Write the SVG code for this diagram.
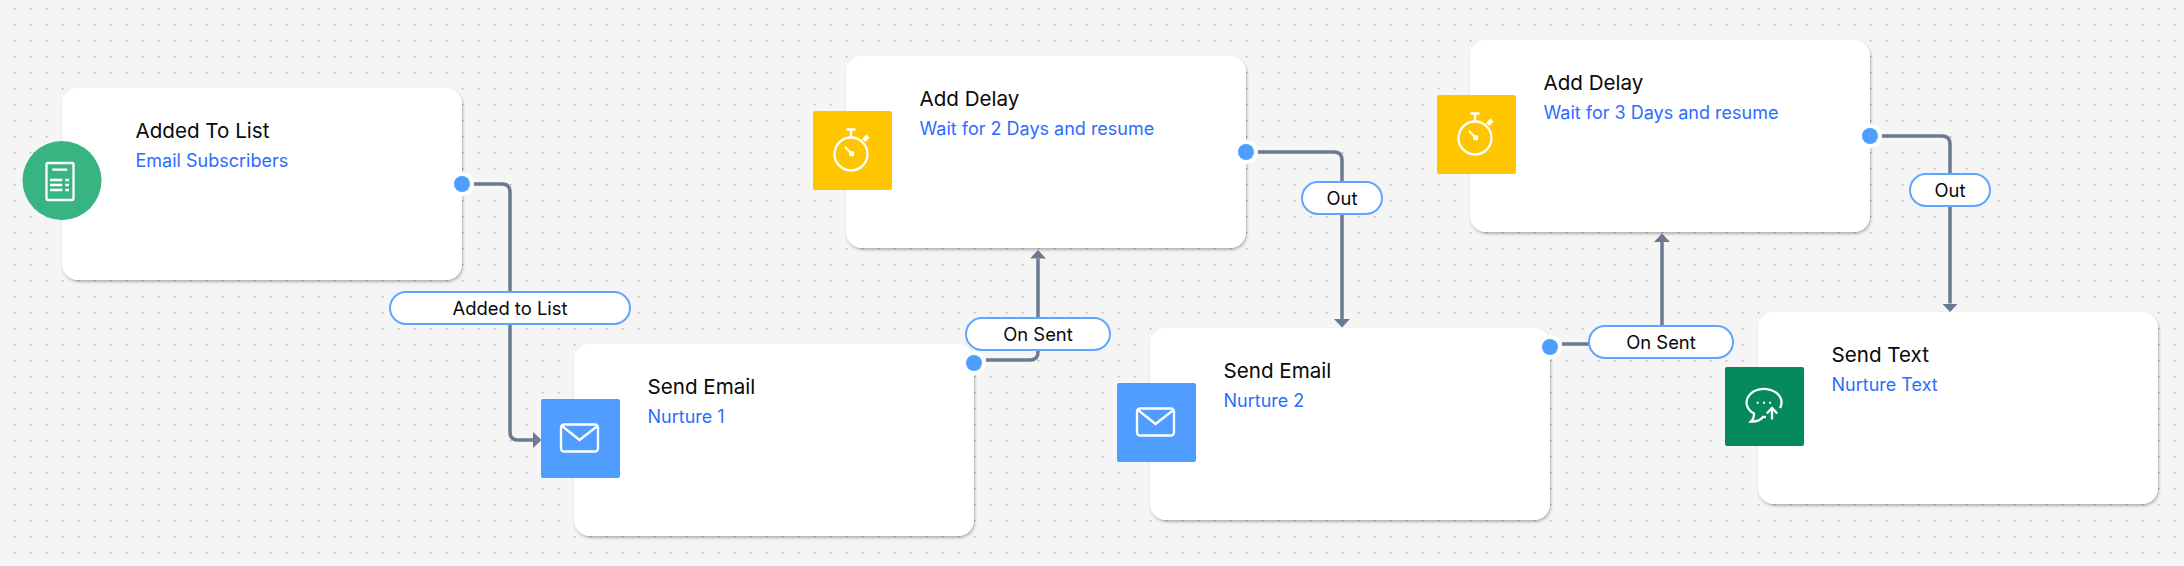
<svg xmlns="http://www.w3.org/2000/svg" width="2184" height="566" viewBox="0 0 2184 566">
<style>
text{font-family:"Inter","Liberation Sans",sans-serif}
.card{fill:#fff;filter:url(#sh)}
.title{font-size:20.600px;fill:#0a0a0a}
.sub{font-size:18px;fill:#2d6cff}
.halo{fill:#fff}
.port{fill:#4f9dff}
.conn{fill:none;stroke:#6b7a90;stroke-width:3.500}
.pill{fill:#fff;stroke:#5ea5ff;stroke-width:2}
.pt{font-size:18.400px;fill:#0a0a0a;text-anchor:middle}
.ic{fill:none;stroke:#fff;stroke-width:2.300}
.icf{fill:#fff}
</style>
<defs>
<pattern id="dots" width="16" height="16" patternUnits="userSpaceOnUse"><circle cx="14.600" cy="8.700" r="0.800" fill="#a0a0a0"/></pattern>
<filter id="sh" x="-5%" y="-5%" width="110%" height="115%"><feDropShadow dx="1" dy="2" stdDeviation="1.600" flood-color="#000" flood-opacity="0.280"/></filter>
<marker id="arr" markerUnits="userSpaceOnUse" markerWidth="10" markerHeight="18" refX="0" refY="8" orient="auto"><path d="M0 0L8.500 8L0 16Z" fill="#6b7a90"/></marker>
<g id="watch" class="ic"><circle cx="851" cy="154" r="16.500"/><path d="M846.500 129.500H855.500M851 129.500V137.500M845 147L851 153"/><path d="M863.700 140.500L868 136.200" stroke-width="4.500"/><circle cx="851.700" cy="153.700" r="2.600" fill="#fff" stroke="none"/></g>
<g id="env" class="ic"><rect x="561" y="424.500" width="37" height="27" rx="3"/><path d="M562 426L579.500 440L597.500 426"/></g>
</defs>
<rect width="2184" height="566" fill="#f5f5f5"/>
<rect width="2184" height="566" fill="url(#dots)"/>
<g id="connectors">
<path class="conn" d="M474 184H502Q510 184 510 192V432Q510 440 518 440H533" marker-end="url(#arr)"/>
<path class="conn" d="M986 360H1030Q1038 360 1038 352V258.500" marker-end="url(#arr)"/>
<path class="conn" d="M1258 152H1334Q1342 152 1342 160V319" marker-end="url(#arr)"/>
<path class="conn" d="M1562 344H1654Q1662 344 1662 336V242" marker-end="url(#arr)"/>
<path class="conn" d="M1882 136H1942Q1950 136 1950 144V303.500" marker-end="url(#arr)"/>
</g>
<g id="node-added">
<rect class="card" x="62" y="88" width="400" height="192" rx="16"/>
<circle cx="62" cy="180.500" r="39.500" fill="#38b382"/>
<rect class="ic" x="46.500" y="163" width="27" height="37" rx="1.500"/>
<path class="ic" d="M52.300 169.700H67.300M50 180H62.300M65.300 180H69M50 185H62.300M65.300 185H69M50 190H62.300M65.300 190H69"/>
<text class="title" x="135.500" y="138">Added To List</text>
<text class="sub" x="135.500" y="167">Email Subscribers</text>
<circle class="halo" cx="462" cy="184" r="12"/><circle class="port" cx="462" cy="184" r="8"/>
</g>
<g id="node-email1">
<rect class="card" x="574" y="344" width="400" height="192" rx="16"/>
<rect x="541" y="399" width="79" height="79" rx="2" fill="#4f9dff"/>
<use href="#env"/>
<text class="title" x="647.500" y="394">Send Email</text>
<text class="sub" x="647.500" y="423">Nurture 1</text>
<circle class="halo" cx="974" cy="363" r="12"/><circle class="port" cx="974" cy="363" r="8"/>
</g>
<g id="node-delay1">
<rect class="card" x="846" y="56" width="400" height="192" rx="16"/>
<rect x="813" y="111" width="79" height="79" rx="2" fill="#ffc600"/>
<use href="#watch"/>
<text class="title" x="919.500" y="106">Add Delay</text>
<text class="sub" x="919.500" y="135">Wait for 2 Days and resume</text>
<circle class="halo" cx="1246" cy="152" r="12"/><circle class="port" cx="1246" cy="152" r="8"/>
</g>
<g id="node-email2">
<rect class="card" x="1150" y="328" width="400" height="192" rx="16"/>
<rect x="1117" y="383" width="79" height="79" rx="2" fill="#4f9dff"/>
<use href="#env" x="576" y="-16"/>
<text class="title" x="1223.500" y="378">Send Email</text>
<text class="sub" x="1223.500" y="407">Nurture 2</text>
<circle class="halo" cx="1550" cy="347" r="12"/><circle class="port" cx="1550" cy="347" r="8"/>
</g>
<g id="node-delay2">
<rect class="card" x="1470" y="40" width="400" height="192" rx="16"/>
<rect x="1437" y="95" width="79" height="79" rx="2" fill="#ffc600"/>
<use href="#watch" x="624" y="-16"/>
<text class="title" x="1543.500" y="90">Add Delay</text>
<text class="sub" x="1543.500" y="119">Wait for 3 Days and resume</text>
<circle class="halo" cx="1870" cy="136" r="12"/><circle class="port" cx="1870" cy="136" r="8"/>
</g>
<g id="node-text">
<rect class="card" x="1758" y="312" width="400" height="192" rx="16"/>
<rect x="1725" y="367" width="79" height="79" rx="2" fill="#048a5c"/>
<path class="ic" d="M1780 408A17.500 13.500 0 1 0 1754 413.500Q1754 419 1751 421.500Q1759 422 1763 417H1766"/>
<path class="ic" d="M1772 419.500V408.500M1766.800 413.500L1772 408L1777.200 413.500"/>
<path class="icf" d="M1756.700 401.700h2v2h-2zM1763 401.700h2v2h-2zM1769 401.700h2v2h-2z"/>
<text class="title" x="1831.500" y="362">Send Text</text>
<text class="sub" x="1831.500" y="391">Nurture Text</text>
</g>
<g id="labels">
<g id="label-added"><rect class="pill" x="390" y="292" width="240" height="32" rx="16"/><text class="pt" x="510" y="314.500">Added to List</text></g>
<g id="label-sent1"><rect class="pill" x="966" y="318" width="144" height="32" rx="16"/><text class="pt" x="1038" y="340.500">On Sent</text></g>
<g id="label-out1"><rect class="pill" x="1302" y="182" width="80" height="32" rx="16"/><text class="pt" x="1342" y="204.500">Out</text></g>
<g id="label-sent2"><rect class="pill" x="1589" y="326" width="144" height="32" rx="16"/><text class="pt" x="1661" y="348.500">On Sent</text></g>
<g id="label-out2"><rect class="pill" x="1910" y="174" width="80" height="32" rx="16"/><text class="pt" x="1950" y="196.500">Out</text></g>
</g>
</svg>
